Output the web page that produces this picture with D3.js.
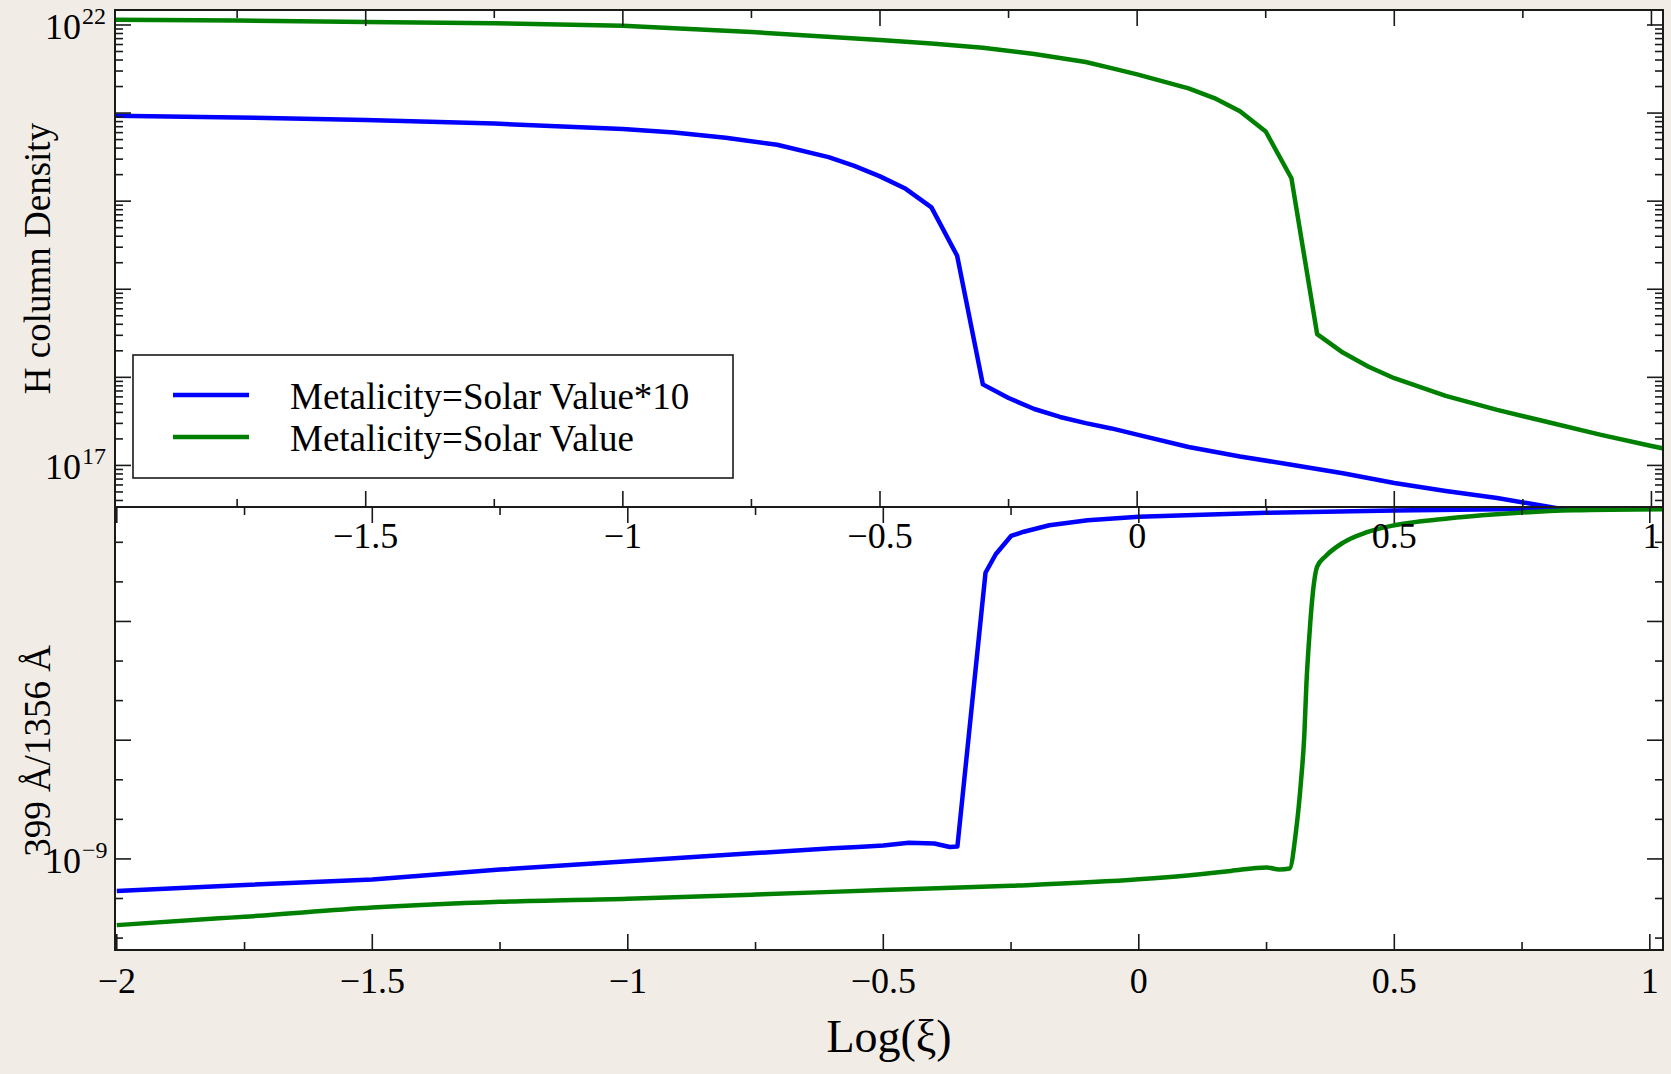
<!DOCTYPE html>
<html>
<head>
<meta charset="utf-8">
<script src="https://cdn.jsdelivr.net/npm/d3@7"></script>
<style>
  html, body { margin: 0; padding: 0; background: #f1ede6; }
  svg { display: block; }
  text { font-family: "Liberation Serif", "Times New Roman", serif; fill: #000; }
</style>
</head>
<body>
<svg id="chart" width="1671" height="1074"></svg>
<script>
// ---- data: log(xi) against H column density (upper) and the 399/1356 line ratio (lower)
const xTickValues = [-2, -1.5, -1, -0.5, 0, 0.5, 1];
const xMinorValues = [-1.75, -1.25, -0.75, -0.25, 0.25, 0.75];

const seriesNames = ["Metalicity=Solar Value*10", "Metalicity=Solar Value"];
const seriesColors = ["#0000ff", "#008000"];

// H column density, metallicity = 10 x solar
const colX10 = [-2, -1.75, -1.5, -1.25, -1, -0.9, -0.8, -0.7, -0.6, -0.55, -0.5, -0.45, -0.4, -0.35, -0.3, -0.25, -0.2, -0.15, -0.1, -0.05, 0, 0.1, 0.2, 0.3, 0.4, 0.5, 0.6, 0.7, 0.8, 0.9, 1.0];
const colN10 = [9.33e20, 8.91e20, 8.32e20, 7.59e20, 6.61e20, 6.03e20, 5.25e20, 4.37e20, 3.16e20, 2.51e20, 1.91e20, 1.38e20, 8.51e19, 2.40e19, 8.32e17, 5.82e17, 4.37e17, 3.55e17, 3.02e17, 2.63e17, 2.24e17, 1.62e17, 1.26e17, 1.02e17, 8.13e16, 6.31e16, 5.13e16, 4.27e16, 3.39e16, 2.69e16, 2.14e16];

// H column density, solar metallicity
const colX1 = [-2, -1.75, -1.5, -1.25, -1, -0.75, -0.5, -0.4, -0.3, -0.2, -0.1, -0.05, 0, 0.05, 0.1, 0.15, 0.2, 0.25, 0.3, 0.35, 0.4, 0.45, 0.5, 0.6, 0.7, 0.8, 0.9, 1.0, 1.025];
const colN1 = [1.148e22, 1.122e22, 1.084e22, 1.047e22, 9.77e21, 8.32e21, 6.76e21, 6.17e21, 5.50e21, 4.68e21, 3.80e21, 3.24e21, 2.75e21, 2.29e21, 1.91e21, 1.48e21, 1.05e21, 6.17e20, 1.82e20, 3.09e18, 1.91e18, 1.32e18, 9.77e17, 6.17e17, 4.27e17, 3.09e17, 2.24e17, 1.66e17, 1.55e17];

// 399 A / 1356 A ratio, metallicity = 10 x solar
const ratX10 = [-2, -1.75, -1.5, -1.25, -1, -0.75, -0.6, -0.55, -0.5, -0.45, -0.4, -0.37, -0.355, -0.3, -0.28, -0.25, -0.225, -0.175, -0.1, 0, 0.25, 0.5, 0.75, 1.0, 1.025];
const ratR10 = [5.37e-10, 6.03e-10, 6.71e-10, 8.13e-10, 9.55e-10, 1.12e-9, 1.23e-9, 1.26e-9, 1.30e-9, 1.37e-9, 1.35e-9, 1.26e-9, 1.27e-9, 2.57e-7, 3.68e-7, 5.25e-7, 5.70e-7, 6.46e-7, 7.11e-7, 7.62e-7, 8.22e-7, 8.61e-7, 8.87e-7, 9.02e-7, 9.04e-7];

// 399 A / 1356 A ratio, solar metallicity
const ratX1 = [-2, -1.8, -1.75, -1.5, -1.25, -1, -0.75, -0.5, -0.25, 0, 0.12, 0.18, 0.25, 0.275, 0.295, 0.307, 0.317, 0.324, 0.328, 0.334, 0.341, 0.349, 0.366, 0.4, 0.445, 0.5, 0.6, 0.7, 0.85, 1.025];
const ratR1 = [2.77e-10, 3.16e-10, 3.26e-10, 3.90e-10, 4.36e-10, 4.63e-10, 5.01e-10, 5.47e-10, 5.94e-10, 6.73e-10, 7.43e-10, 7.93e-10, 8.47e-10, 8.15e-10, 8.30e-10, 1.63e-9, 4.31e-9, 1.13e-8, 2.98e-8, 7.83e-8, 1.81e-7, 2.90e-7, 3.56e-7, 4.62e-7, 5.62e-7, 6.46e-7, 7.33e-7, 8.00e-7, 8.65e-7, 8.83e-7];

// ---- layout
const svg = d3.select("#chart");
const L = 115, R = 1663, T = 10, M = 507, B = 950;
const FONT = "'Liberation Serif', 'Times New Roman', serif";

const xTop = d3.scaleLinear().domain([-1.9875, 1.0225]).range([L, R]);
const xBot = d3.scaleLinear().domain([-2.0035, 1.0258]).range([L, R]);
const yTop = d3.scaleLog().domain([Math.pow(10, 16.528), Math.pow(10, 22.17)]).range([M, T]);
const yBot = d3.scaleLog().domain([Math.pow(10, -9.767), Math.pow(10, -6.036)]).range([B, M]);

// plot backgrounds
svg.append("rect").attr("x", L).attr("y", T).attr("width", R - L).attr("height", M - T).attr("fill", "#fff");
svg.append("rect").attr("x", L).attr("y", M).attr("width", R - L).attr("height", B - M).attr("fill", "#fff");

const defs = svg.append("defs");
defs.append("clipPath").attr("id", "clipTop").append("rect")
  .attr("x", L).attr("y", T).attr("width", R - L).attr("height", M - T);
defs.append("clipPath").attr("id", "clipBot").append("rect")
  .attr("x", L).attr("y", M).attr("width", R - L).attr("height", B - M);

// ---- curves
function drawSeries(clipId, xs, ys, xScale, yScale, color, curve) {
  const pts = xs.map((x, i) => [x, ys[i]]);
  const line = d3.line().x(d => xScale(d[0])).y(d => yScale(d[1])).curve(curve);
  svg.append("path")
    .attr("clip-path", `url(#${clipId})`)
    .attr("d", line(pts))
    .attr("fill", "none")
    .attr("stroke", color)
    .attr("stroke-width", 4.5)
    .attr("stroke-linejoin", "round");
}
drawSeries("clipTop", colX10, colN10, xTop, yTop, seriesColors[0], d3.curveLinear);
drawSeries("clipTop", colX1, colN1, xTop, yTop, seriesColors[1], d3.curveLinear);
drawSeries("clipBot", ratX10, ratR10, xBot, yBot, seriesColors[0], d3.curveLinear);
drawSeries("clipBot", ratX1, ratR1, xBot, yBot, seriesColors[1], d3.curveMonotoneX);

// ---- ticks
const MAJ = 16, MIN = 8;
const tickG = svg.append("g").attr("stroke", "#1a1a1a").attr("stroke-width", 1.6);

function xTicks(scale, y, dir) {
  xTickValues.forEach(v => {
    const x = scale(v);
    if (x < L - 0.5 || x > R + 0.5) return;
    tickG.append("line").attr("x1", x).attr("x2", x).attr("y1", y).attr("y2", y + dir * MAJ);
  });
  xMinorValues.forEach(v => {
    const x = scale(v);
    tickG.append("line").attr("x1", x).attr("x2", x).attr("y1", y).attr("y2", y + dir * MIN);
  });
}
xTicks(xTop, T, 1);
xTicks(xTop, M, -1);
xTicks(xBot, M, 1);
xTicks(xBot, B, -1);

function yTicks(scale, majors, minors) {
  const [lo, hi] = scale.domain();
  majors.filter(v => v >= lo && v <= hi).forEach(v => {
    const y = scale(v);
    tickG.append("line").attr("x1", L).attr("x2", L + MAJ).attr("y1", y).attr("y2", y);
    tickG.append("line").attr("x1", R).attr("x2", R - MAJ).attr("y1", y).attr("y2", y);
  });
  minors.filter(v => v >= lo && v <= hi).forEach(v => {
    const y = scale(v);
    tickG.append("line").attr("x1", L).attr("x2", L + MIN).attr("y1", y).attr("y2", y);
    tickG.append("line").attr("x1", R).attr("x2", R - MIN).attr("y1", y).attr("y2", y);
  });
}
// upper panel: decades with 2..9 subdivisions
const topMajors = d3.range(16, 23).map(k => Math.pow(10, k));
const topMinors = [];
d3.range(16, 23).forEach(k => d3.range(2, 10).forEach(m => topMinors.push(m * Math.pow(10, k))));
yTicks(yTop, topMajors, topMinors);
// lower panel: decades split in thirds
const botMajors = d3.range(-10, -5).map(k => Math.pow(10, k));
const botMinors = [];
d3.range(-10, -5).forEach(k => { botMinors.push(Math.pow(10, k + 1 / 3)); botMinors.push(Math.pow(10, k + 2 / 3)); });
yTicks(yBot, botMajors, botMinors);

// ---- frames
const frameG = svg.append("g").attr("fill", "none").attr("stroke", "#1a1a1a").attr("stroke-width", 2);
frameG.append("rect").attr("x", L).attr("y", T).attr("width", R - L).attr("height", M - T);
frameG.append("rect").attr("x", L).attr("y", M).attr("width", R - L).attr("height", B - M);

// ---- tick labels
const fmt = v => (v < 0 ? "\u2212" : "") + String(Math.abs(v));
const lab = svg.append("g").style("font-family", FONT).style("font-size", "36px");
xTickValues.filter(v => v > -2).forEach(v => {
  lab.append("text").attr("x", xTop(v)).attr("y", 548).attr("text-anchor", "middle").text(fmt(v));
});
xTickValues.forEach(v => {
  lab.append("text").attr("x", xBot(v)).attr("y", 993).attr("text-anchor", "middle").text(fmt(v));
});

function powLabel(y, exp) {
  lab.append("text").attr("x", 81).attr("y", y + 14).attr("text-anchor", "end").text("10");
  lab.append("text").attr("x", 82).attr("y", y - 1).style("font-size", "24px")
    .text(exp < 0 ? "\u2212" + Math.abs(exp) : String(exp));
}
powLabel(yTop(1e22), 22);
powLabel(yTop(1e17), 17);
powLabel(yBot(1e-9), -9);

// ---- axis titles
const titles = svg.append("g").style("font-family", FONT).style("font-size", "37px");
titles.append("text").attr("transform", `translate(50,${(T + M) / 2}) rotate(-90)`)
  .attr("text-anchor", "middle").text("H column Density");
titles.append("text").attr("transform", "translate(50,751) rotate(-90)")
  .attr("text-anchor", "middle").text("399 \u00C5/1356 \u00C5");
svg.append("text").attr("x", (L + R) / 2).attr("y", 1052).attr("text-anchor", "middle")
  .style("font-family", FONT).style("font-size", "46px").text("Log(\u03BE)");

// ---- legend
const leg = svg.append("g");
leg.append("rect").attr("x", 133).attr("y", 355).attr("width", 600).attr("height", 123)
  .attr("fill", "#fff").attr("stroke", "#1a1a1a").attr("stroke-width", 1.6);
seriesNames.forEach((name, i) => {
  const cy = 395 + i * 42;
  leg.append("line").attr("x1", 173).attr("x2", 249).attr("y1", cy).attr("y2", cy)
    .attr("stroke", seriesColors[i]).attr("stroke-width", 4.5);
  leg.append("text").attr("x", 290).attr("y", cy + 14)
    .style("font-family", FONT).style("font-size", "37px").text(name);
});
</script>
</body>
</html>
